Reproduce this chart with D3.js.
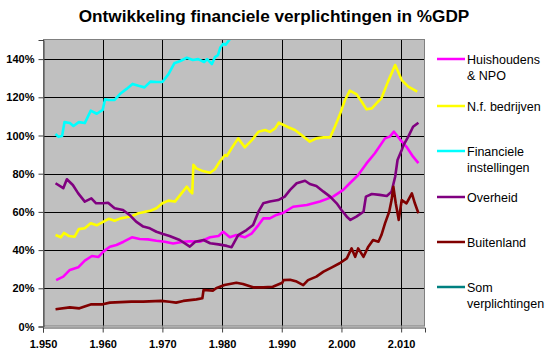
<!DOCTYPE html>
<html><head><meta charset="utf-8">
<script src="https://cdn.jsdelivr.net/npm/d3@7"></script>
<style>body{margin:0;background:#fff}svg{display:block;font-family:Arial,"Liberation Sans",sans-serif}</style>
</head><body><svg id="c" width="550" height="355"></svg>
<script>
const title = "Ontwikkeling financiele verplichtingen in %GDP";
const yTicks = [0,20,40,60,80,100,120,140];
const xTicks = [1950,1960,1970,1980,1990,2000,2010];
const seriesNames = ["Huishoudens\n& NPO","N.f. bedrijven","Financiele\ninstellingen","Overheid","Buitenland","Som\nverplichtingen"];
const seriesColors = ["#FF00FF","#FFFF00","#00FFFF","#800080","#800000","#008080"];

const huishoudens = [[1952.2,24.3],[1953.4,26.1],[1954.5,29.6],[1955.9,31],[1957,34.5],[1958.2,36.9],[1959.3,36.4],[1960.1,39.2],[1961.2,41.8],[1962.3,42.7],[1963.5,44.4],[1964.9,46.7],[1966.2,45.8],[1967.6,45.6],[1969,44.9],[1970.4,44.4],[1971.8,43.5],[1973.5,44.4],[1974.6,44.6],[1976.3,44.4],[1978,46.7],[1979.4,47.4],[1980.2,49.6],[1981.3,46.7],[1982.4,47.9],[1983.8,46.7],[1985,48.8],[1986.1,53.1],[1986.9,56.6],[1988,56.6],[1989.1,58.4],[1990.3,59.6],[1991.9,62.7],[1994.2,63.6],[1996.4,65.4],[1998.6,68],[2000.3,71.5],[2001.4,75],[2002.8,79.3],[2004.2,85.4],[2005.6,90.7],[2007.3,98.5],[2008.1,99.4],[2008.8,102],[2009.8,98],[2010.9,94.1],[2012,88.9],[2012.9,85.5]];
const nfBedrijven = [[1952.1,47.9],[1953,46.7],[1953.5,49],[1954.3,47.4],[1955.3,47],[1956,51],[1957,51.4],[1958,54],[1959,53],[1960,54.7],[1961,56.4],[1962,55.4],[1963,56.6],[1964,57.2],[1965,57.9],[1966,59.3],[1967,60],[1968,60.6],[1969,61.9],[1970,64.5],[1971,65.9],[1972.1,65.4],[1973.2,69.7],[1974.1,73.2],[1974.7,70.6],[1975,69.7],[1975.2,84.6],[1975.7,82.8],[1976.6,81.6],[1978,80.5],[1978.8,82.3],[1979.6,86.3],[1980.5,89.8],[1980.8,89.3],[1981.6,93.3],[1982.7,98.5],[1983.8,93.8],[1985,97.6],[1986.1,102],[1987.2,102.9],[1988,101.9],[1988.9,103.7],[1989.5,106.7],[1990.3,105.5],[1991.1,104.3],[1992.2,102.9],[1993.3,100.3],[1994.7,96.8],[1995.8,98.5],[1997,99],[1998.1,99],[1998.9,104.6],[1999.7,110.7],[2000.6,118.6],[2001.4,123.5],[2002.5,121.7],[2003.4,117.7],[2004.2,113.7],[2005.1,114.2],[2005.9,116.9],[2006.7,119.5],[2007.8,128.2],[2009,136.9],[2009.5,133.4],[2010.1,129],[2011.2,125.6],[2012.7,123]];
const financieel = [[1952.1,100.8],[1952.6,99.3],[1953.2,99.7],[1953.6,107],[1954.5,106.5],[1955.1,105],[1956,107],[1957,106.5],[1958,113],[1959,111.4],[1960,113.4],[1960.4,119],[1961,118.6],[1962,118.6],[1963,122],[1964,124.4],[1965,127],[1966,126],[1967,125.2],[1968,128.2],[1969,128],[1970,128],[1971,132],[1972,137.8],[1973,139],[1974.1,140.7],[1975.1,139.5],[1976,140],[1977,138.5],[1977.5,140],[1978.3,137.4],[1978.8,141],[1979.3,142],[1979.7,146],[1980.2,148],[1980.6,147.5],[1981.2,150],[1981.6,152]];
const overheid = [[1952.1,75],[1953.4,72.4],[1954,77.1],[1955,74.1],[1955.9,69.7],[1957,65.4],[1958.1,67.1],[1958.9,64.5],[1960,64.5],[1960.9,64.8],[1962,61.9],[1963.4,61],[1964.5,58.4],[1965.6,54.9],[1966.8,52.3],[1967.9,51.4],[1969,49.6],[1970.1,48.4],[1971.2,47.4],[1972.9,45.3],[1974.6,41.8],[1975.5,44.4],[1976.9,45.3],[1978,43.6],[1979.4,43],[1980.8,42.2],[1981.6,41.5],[1982.7,47.9],[1984.1,50.5],[1985.2,53.1],[1986.1,60.1],[1986.9,64.5],[1988,65.4],[1989.4,66.2],[1990.5,68],[1991.4,71.5],[1992.5,75],[1993.9,76.3],[1994.7,74.6],[1995.8,73.6],[1997,70.6],[1998.1,68],[1999.2,64.5],[2000,61],[2000.9,57.5],[2001.5,55.8],[2002.5,57.5],[2003.7,60.1],[2004.1,68],[2005.1,69.4],[2006.4,68.9],[2007.6,68.3],[2008.4,70.6],[2009,78.4],[2009.4,87.2],[2010.1,92.4],[2010.4,95],[2011.2,99.4],[2012,104.6],[2012.9,106.7]];
const buitenland = [[1952.1,9],[1954.5,10],[1956.1,9.5],[1958.1,11.6],[1960,11.6],[1961.2,12.5],[1964.8,13],[1966.8,13],[1969.8,13.4],[1971.2,13],[1972.3,12.5],[1973.5,13.4],[1975.7,14.2],[1976.7,14.8],[1976.9,19.1],[1978.5,18.8],[1979,20],[1980.4,21.7],[1982.4,22.9],[1983.5,22.3],[1985.2,20.5],[1986.9,20.5],[1988.5,20.8],[1990.1,22.9],[1990.3,24.3],[1991.4,24.5],[1992.5,23.5],[1993.6,21.7],[1994.4,24.3],[1995.8,26.1],[1997,28.7],[1998.4,31],[1999.7,33.1],[2000.9,35.7],[2001.7,40.9],[2002.3,36.5],[2002.8,40.9],[2003.7,36.5],[2004.5,41.8],[2005.3,45.3],[2006.2,44.4],[2006.7,47.9],[2007.3,54],[2008,60.1],[2008.4,66.2],[2008.7,73.2],[2009.1,64.5],[2009.6,55.8],[2010.1,66.2],[2010.9,64.5],[2011.8,69.7],[2012.3,64.5],[2012.9,59.3]];
const somVerplichtingen = [];

const seriesData = [huishoudens, nfBedrijven, financieel, overheid, buitenland, somVerplichtingen];

const svg = d3.select("#c");
const L = 43, R = 425, T = 40, B = 326.5;
const x = d3.scaleLinear().domain([1950, 2014]).range([L, R]);
const y = d3.scaleLinear().domain([0, 150]).range([B, T]);

svg.append("text").attr("x", 274).attr("y", 22).attr("text-anchor", "middle")
  .attr("font-size", 17.2).attr("font-weight", "bold").attr("fill", "#000").text(title);

svg.append("rect").attr("x", L).attr("y", T).attr("width", R - L).attr("height", B - T)
  .attr("fill", "#C0C0C0");

const clip = svg.append("clipPath").attr("id", "pc");
clip.append("rect").attr("x", L).attr("y", T).attr("width", R - L).attr("height", B - T);

// gridlines
svg.append("g").selectAll("line").data(yTicks.filter(d => d > 0)).join("line")
  .attr("x1", L).attr("x2", R).attr("y1", d => Math.round(y(d)) + 0.5).attr("y2", d => Math.round(y(d)) + 0.5)
  .attr("stroke", "#000").attr("stroke-width", 1);
svg.append("g").selectAll("line").data(xTicks.filter(d => d > 1950)).join("line")
  .attr("y1", T).attr("y2", B).attr("x1", d => Math.round(x(d)) + 0.5).attr("x2", d => Math.round(x(d)) + 0.5)
  .attr("stroke", "#000").attr("stroke-width", 1);

// border
svg.append("rect").attr("x", L + 0.5).attr("y", T - 0.5).attr("width", R - L - 1).attr("height", B - T)
  .attr("fill", "none").attr("stroke", "#808080");

// axes
const yAxis = d3.axisLeft(y).tickValues(yTicks).tickSize(5).tickPadding(4).tickFormat(d => d + "%");
const ga = svg.append("g").attr("transform", `translate(${L + 0.5},0)`).call(yAxis);
const xAxis = d3.axisBottom(x).tickValues(xTicks).tickSize(5).tickFormat(d => d3.format(",")(d).replace(",", "."));
const gx = svg.append("g").attr("transform", `translate(0,${Math.round(B) + 0.5})`).call(xAxis);
[ga, gx].forEach(g => {
  g.select(".domain").attr("stroke", "#404040");
  g.selectAll(".tick line").attr("stroke", "#404040");
  g.selectAll("text").attr("font-size", 11).attr("font-weight", "bold").attr("fill", "#000")
    .attr("font-family", "Arial, 'Liberation Sans', sans-serif");
});
gx.selectAll("text").attr("dy", "1.15em");

// lines
const line = d3.line().x(d => x(d[0])).y(d => y(d[1]));
const lg = svg.append("g").attr("clip-path", "url(#pc)");
seriesData.forEach((s, i) => {
  if (!s.length) return;
  lg.append("path").attr("d", line(s)).attr("fill", "none")
    .attr("stroke", seriesColors[i]).attr("stroke-width", 2.6).attr("stroke-linejoin", "round");
});

// legend
const legY = [59, 106, 151, 197, 242, 287];
const leg = svg.append("g");
seriesNames.forEach((n, i) => {
  leg.append("line").attr("x1", 437).attr("x2", 465).attr("y1", legY[i]).attr("y2", legY[i])
    .attr("stroke", seriesColors[i]).attr("stroke-width", 2.5);
  const t = leg.append("text").attr("x", 467).attr("y", legY[i] + 4.5).attr("font-size", 12.5).attr("fill", "#000");
  n.split("\n").forEach((s, k) => t.append("tspan").attr("x", 467).attr("dy", k ? 16.5 : 0).text(s));
});
</script></body></html>
